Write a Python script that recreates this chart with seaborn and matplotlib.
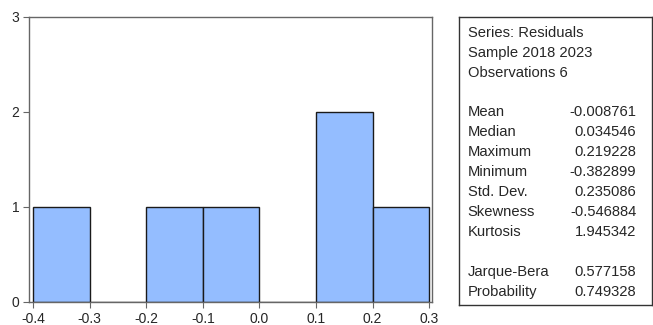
import numpy as np
import pandas as pd
import matplotlib
matplotlib.use("Agg")
import matplotlib.pyplot as plt
import seaborn as sns

# histogram of residuals (bin edges and counts)
bin_edges = [-0.4, -0.3, -0.2, -0.1, 0.0, 0.1, 0.2, 0.3]
counts = [1, 0, 1, 1, 0, 2, 1]

# descriptive statistics box
header_lines = ["Series: Residuals", "Sample 2018 2023", "Observations 6"]
stat_names = ["Mean", "Median", "Maximum", "Minimum", "Std. Dev.", "Skewness", "Kurtosis"]
stat_values = ["-0.008761", "0.034546", "0.219228", "-0.382899", "0.235086", "-0.546884", "1.945342"]
test_names = ["Jarque-Bera", "Probability"]
test_values = ["0.577158", "0.749328"]

sns.set_style("white")
plt.rcParams['font.family'] = ['Liberation Sans', 'DejaVu Sans']

centers = [(a + b) / 2 for a, b in zip(bin_edges[:-1], bin_edges[1:])]
df = pd.DataFrame({"resid": centers, "n": counts})

fig = plt.figure(figsize=(6.53, 3.25), dpi=100)
ax = fig.add_axes([0.0444, 0.0708, 0.6172, 0.8769])

sns.histplot(data=df, x="resid", weights="n", bins=bin_edges, ax=ax,
             color="#94BDFF", alpha=1, edgecolor="#1a1a1a", linewidth=1.0)

ax.set_xlim(-0.407, 0.305)
ax.set_ylim(0, 3)
ax.set_xticks(bin_edges)
ax.set_xticklabels([f"{v:.1f}" for v in bin_edges])
ax.set_yticks([0, 1, 2, 3])
ax.set_xlabel("")
ax.set_ylabel("")
ax.tick_params(axis="both", length=4, width=0.8, color="#666666", labelsize=10,
               pad=3, direction="out", bottom=True, left=True)
for s in ax.spines.values():
    s.set_color("#666666")
    s.set_linewidth(1.0)

# statistics box
bx = fig.add_axes([0.703, 0.0615, 0.295, 0.8862])
bx.set_xlim(0, 1)
bx.set_ylim(325 - 305, 325 - 17)
bx.set_xticks([])
bx.set_yticks([])
for s in bx.spines.values():
    s.set_color("#333333")
    s.set_linewidth(1.0)

fs = 10.6
xl = 0.045
xr = 0.92
ys = [33, 53, 73]
for y, t in zip(ys, header_lines):
    bx.text(xl, 325 - y, t, fontsize=fs, va="center", ha="left")
for i, (n, v) in enumerate(zip(stat_names, stat_values)):
    y = 112 + 20 * i
    bx.text(xl, 325 - y, n, fontsize=fs, va="center", ha="left")
    bx.text(xr, 325 - y, v, fontsize=fs, va="center", ha="right")
for i, (n, v) in enumerate(zip(test_names, test_values)):
    y = 272 + 20 * i
    bx.text(xl, 325 - y, n, fontsize=fs, va="center", ha="left")
    bx.text(xr, 325 - y, v, fontsize=fs, va="center", ha="right")

fig.savefig("out.png", dpi=100)
